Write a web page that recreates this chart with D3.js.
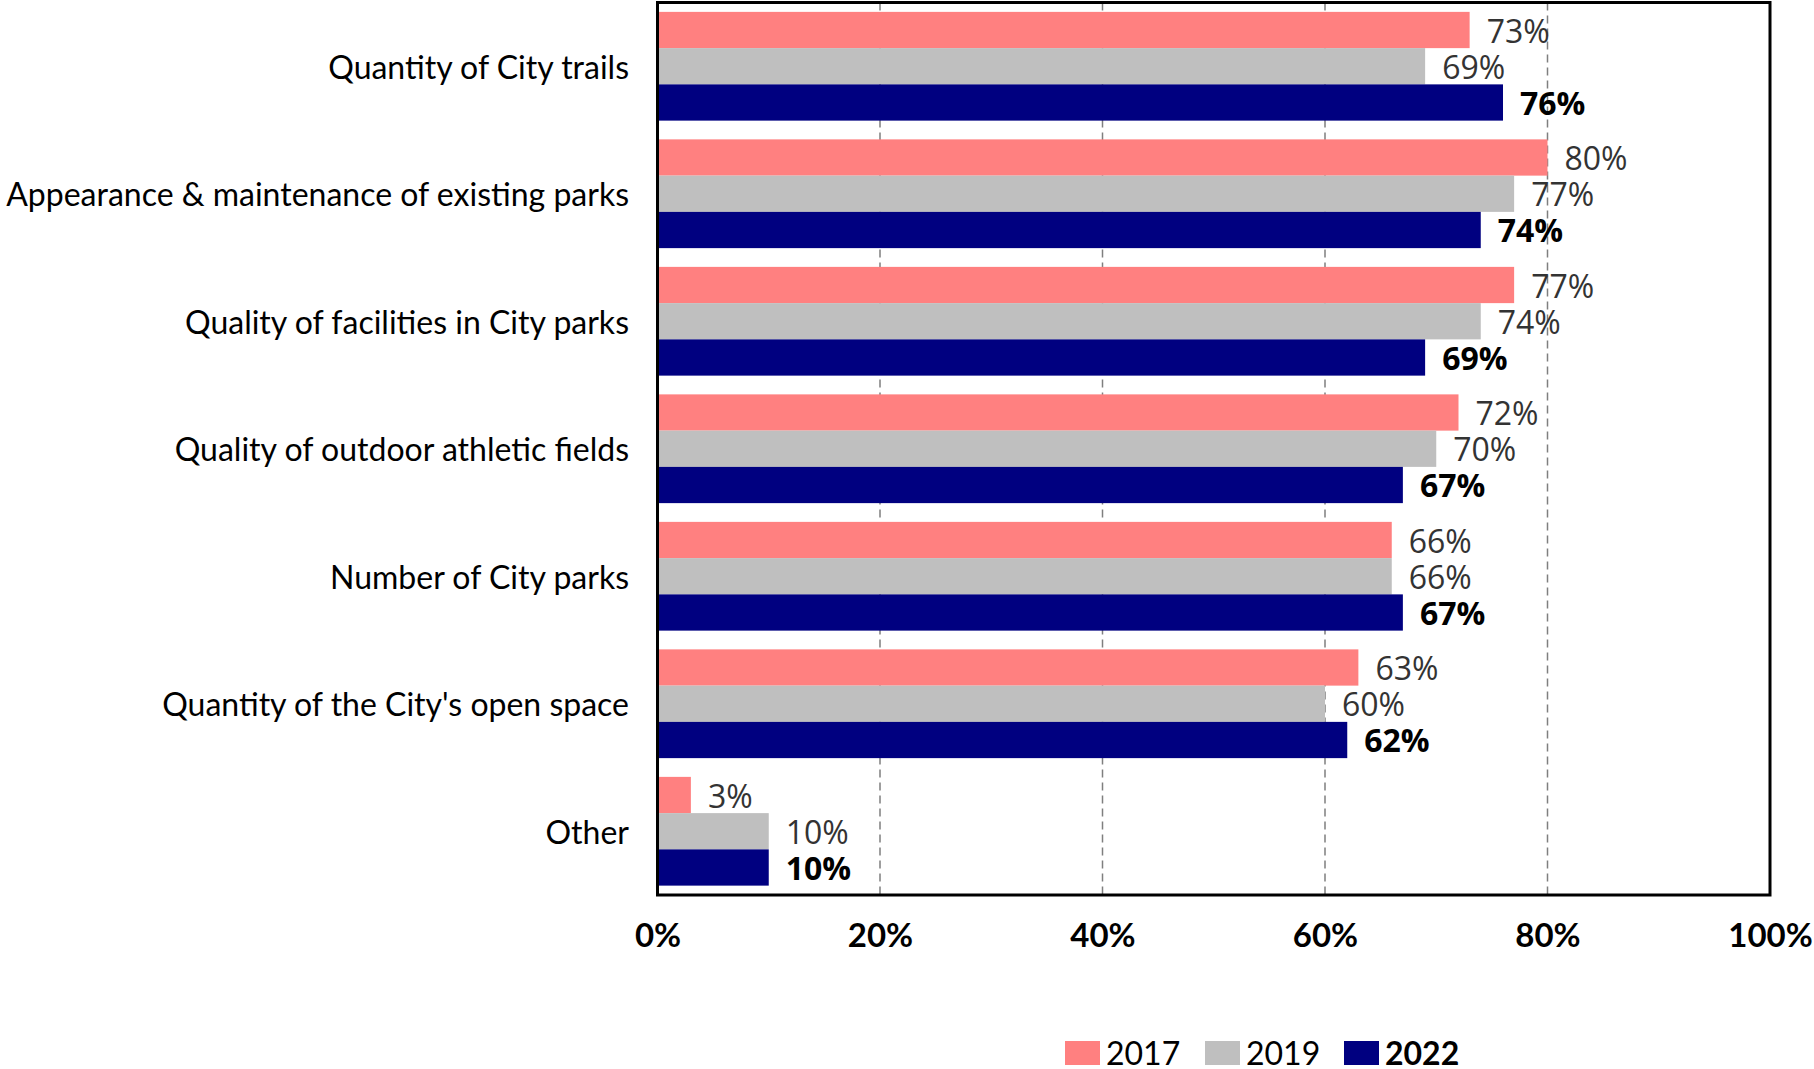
<!DOCTYPE html>
<html><head><meta charset="utf-8">
<script src="https://cdn.jsdelivr.net/npm/d3@7"></script>
<style>html,body{margin:0;padding:0;background:#fff;}svg{display:block;}</style>
</head><body>
<svg id="chart" width="1814" height="1069"></svg>
<script>
const categories = [
  "Quantity of City trails",
  "Appearance & maintenance of existing parks",
  "Quality of facilities in City parks",
  "Quality of outdoor athletic fields",
  "Number of City parks",
  "Quantity of the City's open space",
  "Other"
];
const seriesNames = ["2017", "2019", "2022"];
const values2017 = [73, 80, 77, 72, 66, 63, 3];
const values2019 = [69, 77, 74, 70, 66, 60, 10];
const values2022 = [76, 74, 69, 67, 67, 62, 10];
const xTicks = [0, 20, 40, 60, 80, 100];
const colors = ["#FF8080", "#BFBFBF", "#000080"];

const seriesValues = [values2017, values2019, values2022];
const svg = d3.select("#chart");
const pLeft = 657.5, pRight = 1770, pTop = 2.5, pBottom = 895;
const catFont = "Lato, 'Open Sans', sans-serif";
const valFont = "'Open Sans', 'Noto Sans', sans-serif";

const x = d3.scaleLinear().domain([0, 100]).range([pLeft, pRight]);
const y = d3.scaleBand().domain(categories).range([pTop, pBottom]).paddingInner(0.147).paddingOuter(0.0735);
const ys = d3.scaleBand().domain(seriesNames).range([0, y.bandwidth()]);

// gridlines
svg.append("g").selectAll("line").data(xTicks.filter(t => t > 0 && t < 100)).join("line")
  .attr("x1", d => x(d)).attr("x2", d => x(d))
  .attr("y1", pTop).attr("y2", pBottom)
  .attr("stroke", "#7f7f7f").attr("stroke-width", 1.5).attr("stroke-dasharray", "8,5");

// bars
const groups = svg.append("g").selectAll("g").data(categories).join("g")
  .attr("transform", d => `translate(0,${y(d)})`);
groups.each(function(cat, ci) {
  const g = d3.select(this);
  seriesNames.forEach((s, si) => {
    const v = seriesValues[si][ci];
    g.append("rect")
      .attr("x", x(0)).attr("y", ys(s))
      .attr("width", x(v) - x(0)).attr("height", ys.bandwidth())
      .attr("fill", colors[si]);
    g.append("text")
      .attr("x", x(v) + 17).attr("y", ys(s) + ys.bandwidth() / 2)
      .attr("dominant-baseline", "central")
      .attr("font-family", valFont).attr("font-size", 32)
      .attr("font-weight", si === 2 ? "bold" : "normal")
      .attr("fill", si === 2 ? "#000" : "#333")
      .text(v + "%");
  });
});

// plot border
svg.append("rect").attr("x", pLeft).attr("y", pTop).attr("width", pRight - pLeft).attr("height", pBottom - pTop)
  .attr("fill", "none").attr("stroke", "#000").attr("stroke-width", 3);

// category labels
svg.append("g").selectAll("text").data(categories).join("text")
  .attr("x", 629).attr("y", d => y(d) + y.bandwidth() / 2)
  .attr("text-anchor", "end").attr("dominant-baseline", "central")
  .attr("font-family", catFont).attr("font-size", 32).attr("fill", "#000")
  .text(d => d);

// x tick labels
const xAxis = d3.axisBottom(x).tickValues(xTicks).tickFormat(d => d + "%").tickSize(0).tickPadding(0);
const ax = svg.append("g").attr("transform", `translate(0,${pBottom})`).call(xAxis);
ax.select(".domain").remove();
ax.selectAll("text").attr("y", 52).attr("dy", 0)
  .attr("font-family", catFont).attr("font-size", 33).attr("font-weight", "bold").attr("fill", "#000");

// legend
const legendX = [1065, 1205, 1344];
const lg = svg.append("g").selectAll("g").data(seriesNames).join("g")
  .attr("transform", (d, i) => `translate(${legendX[i]},1041)`);
lg.append("rect").attr("width", 35).attr("height", 24).attr("fill", (d, i) => colors[i]);
lg.append("text").attr("x", 41).attr("y", 24)
  .attr("font-family", catFont).attr("font-size", 32)
  .attr("font-weight", (d, i) => i === 2 ? "bold" : "normal")
  .attr("fill", "#000").text(d => d);
</script>
</body></html>
